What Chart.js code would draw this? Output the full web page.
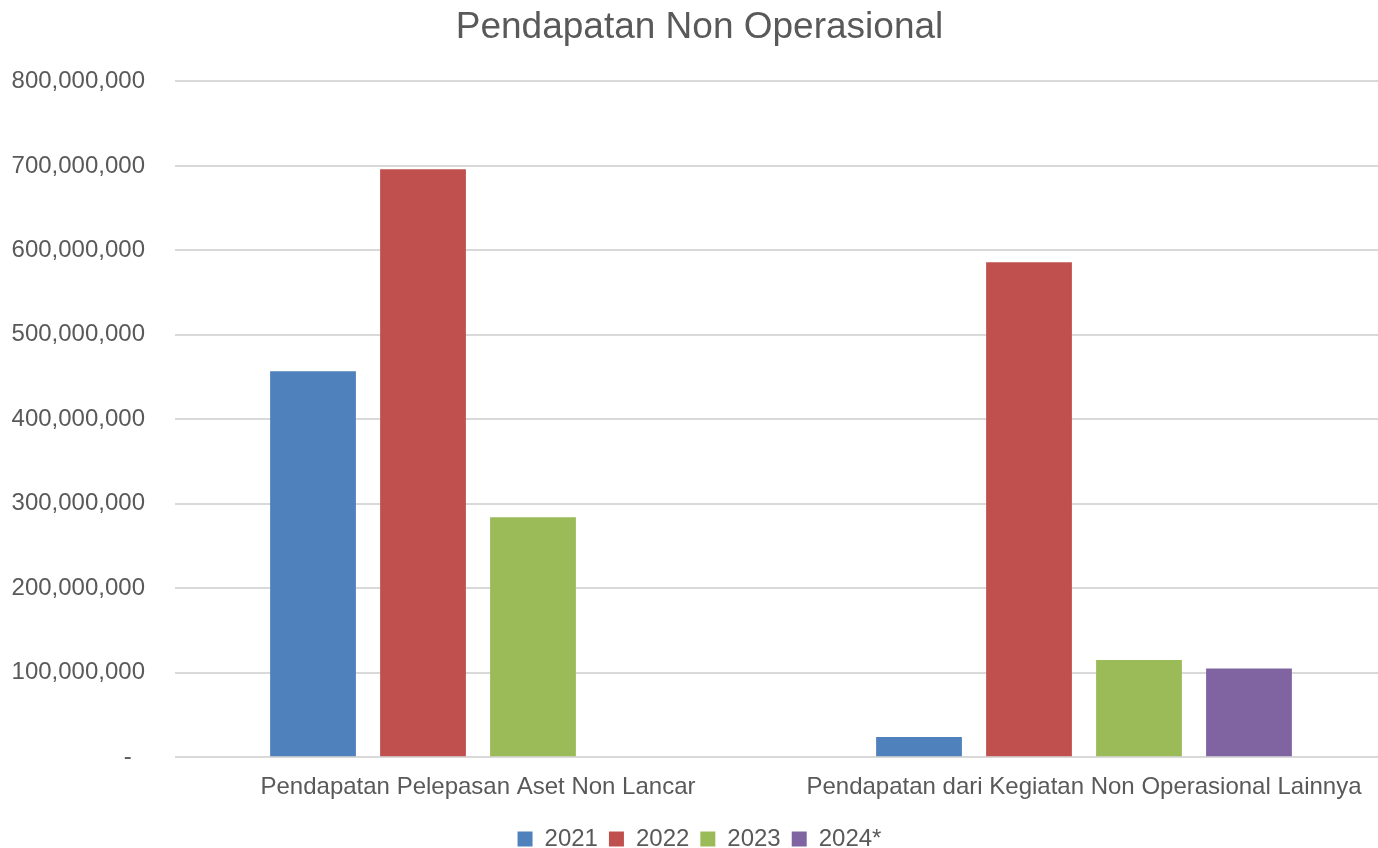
<!DOCTYPE html>
<html>
<head>
<meta charset="utf-8">
<script src="https://cdn.jsdelivr.net/npm/chart.js@4/dist/chart.umd.min.js"></script>
<style>
  html, body { margin: 0; padding: 0; background: #fff; overflow: hidden; }
  #wrap { width: 1404px; height: 848px; position: relative; }
</style>
</head>
<body>
<div id="wrap"><canvas id="chart-non-op"></canvas></div>
<script>
const categories = ['Pendapatan Pelepasan Aset Non Lancar', 'Pendapatan dari Kegiatan Non Operasional Lainnya'];
const years = ['2021', '2022', '2023', '2024*'];
const values2021 = [457000000, 24000000];
const values2022 = [696000000, 586000000];
const values2023 = [284000000, 115000000];
const values2024 = [0, 105000000];
const colors = ['#4F81BD', '#C0504D', '#9BBB59', '#8064A2'];

const FONT = "'Liberation Sans', Arial, sans-serif";
const TEXT = '#595959';

const series = [values2021, values2022, values2023, values2024];

new Chart(document.getElementById('chart-non-op'), {
  type: 'bar',
  data: {
    labels: categories,
    datasets: series.map((vals, i) => ({
      label: years[i],
      data: vals,
      backgroundColor: colors[i],
      borderWidth: 0,
      barPercentage: 0.78,
      categoryPercentage: 0.726
    }))
  },
  options: {
    responsive: true,
    maintainAspectRatio: false,
    animation: false,
    layout: { padding: { left: 12, right: 17, top: 6, bottom: -13 } },
    plugins: {
      title: {
        display: true,
        text: 'Pendapatan Non Operasional',
        color: TEXT,
        font: { family: FONT, size: 37, weight: 'normal' },
        padding: { top: 0, bottom: 31 }
      },
      legend: {
        position: 'bottom',
        labels: {
          color: TEXT,
          font: { family: FONT, size: 24 },
          boxWidth: 15,
          boxHeight: 15,
          padding: 11
        }
      },
      tooltip: { enabled: false }
    },
    scales: {
      x: {
        grid: { display: false },
        border: { display: false },
        ticks: { color: TEXT, font: { family: FONT, size: 24 }, padding: 8, maxRotation: 0 },
        afterFit(scale) { scale.height += 6; }
      },
      y: {
        min: 0,
        max: 800000000,
        ticks: {
          stepSize: 100000000,
          color: TEXT,
          font: { family: FONT, size: 24 },
          padding: 30,
          callback: (v) => v === 0 ? '-  ' : v.toLocaleString('en-US')
        },
        grid: { color: '#D9D9D9', lineWidth: 2, drawTicks: false },
        border: { display: false },
        afterFit(scale) { scale.width = 163; }
      }
    }
  }
});
</script>
</body>
</html>
